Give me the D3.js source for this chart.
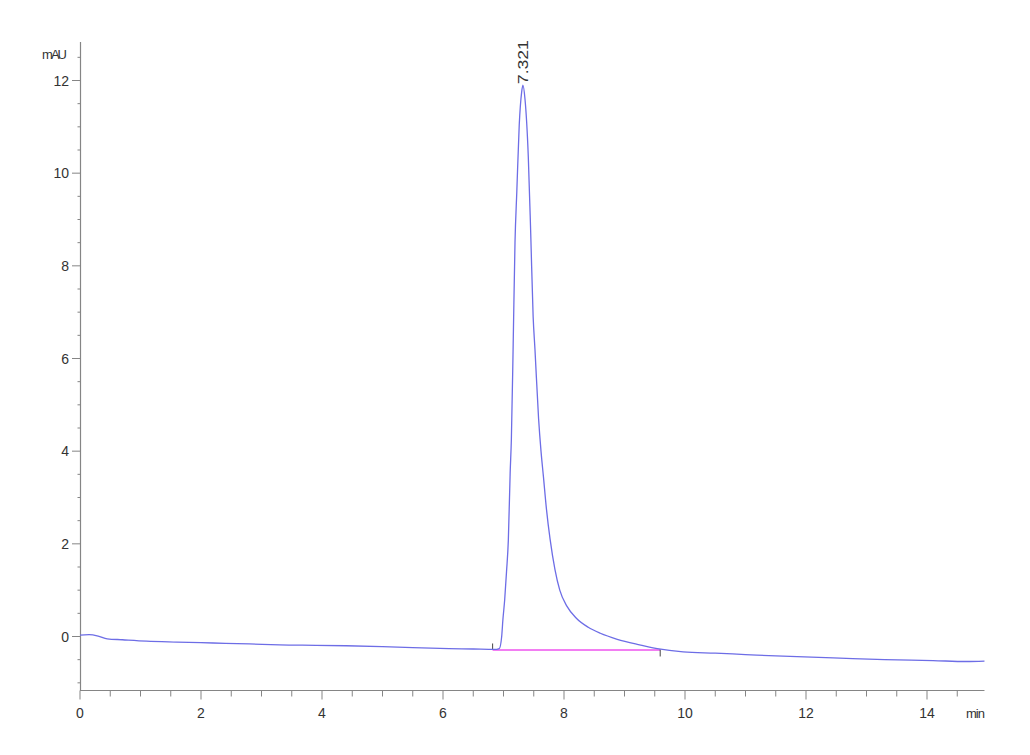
<!DOCTYPE html>
<html>
<head>
<meta charset="utf-8">
<script src="https://cdn.jsdelivr.net/npm/d3@7"></script>
<style>
  html, body { margin: 0; padding: 0; background: #fff; }
  svg { display: block; }
  text { font-family: "Liberation Sans", Arial, sans-serif; fill: #333; }
</style>
</head>
<body>
<svg id="chart" width="1030" height="755"></svg>
<script>
// ---- data ----
const times = [0, 0.15, 0.3, 0.45, 0.7, 1.1, 1.6, 2.2, 2.8, 3.3, 3.9, 4.4, 5.0, 5.5, 6.1, 6.5, 6.85,
  6.93, 6.97, 6.99, 7.02, 7.05, 7.08, 7.11, 7.13, 7.16, 7.19, 7.22, 7.26, 7.30, 7.321, 7.355, 7.41,
  7.45, 7.49, 7.52, 7.58, 7.62, 7.66, 7.71, 7.77, 7.85, 7.93, 8.05, 8.2, 8.4, 8.6, 8.88, 9.21, 9.54,
  9.97, 10.5, 11.0, 11.5, 12.45, 13.3, 14.1, 14.65, 14.95];
const signal = [0.03, 0.04, 0.01, -0.05, -0.07, -0.10, -0.12, -0.14, -0.16, -0.18, -0.19, -0.20, -0.22, -0.24, -0.26, -0.27, -0.28,
  -0.26, 0.0, 0.36, 0.8, 1.4, 2.08, 3.53, 4.25, 6.3, 8.5, 9.6, 11.04, 11.75, 11.9, 11.6, 10.35,
  8.7, 6.9, 6.2, 4.7, 4.0, 3.45, 2.75, 2.1, 1.45, 1.0, 0.65, 0.4, 0.2, 0.07, -0.06, -0.17, -0.26,
  -0.33, -0.36, -0.39, -0.42, -0.46, -0.50, -0.52, -0.54, -0.53];
const baselineTimes = [6.82, 9.59];
const baselineValues = [-0.28, -0.28];
const peakTime = 7.321;
const peakValue = 11.9;
const peakLabel = "7.321";
const xTickValues = [0, 2, 4, 6, 8, 10, 12, 14];
const yTickValues = [0, 2, 4, 6, 8, 10, 12];
const xUnit = "min";
const yUnit = "mAU";

// ---- layout ----
const svg = d3.select("#chart");
const x = d3.scaleLinear().domain([0, 15]).range([80, 987.5]);
const y = d3.scaleLinear().domain([0, 12]).range([636.5, 80.5]);
const xAxisY = 690.5;
const yTop = 42;
const axisColor = "#858585";

// minor ticks
const xMinor = d3.range(0, 15.001, 0.5).filter(v => !xTickValues.includes(v));
const yMinor = d3.range(-1, 12.501, 0.5).filter(v => !yTickValues.includes(v));

const g = svg.append("g");

// y axis line
g.append("line").attr("x1", 80.5).attr("x2", 80.5).attr("y1", yTop).attr("y2", xAxisY)
  .attr("stroke", axisColor).attr("stroke-width", 1.2);
// x axis line
g.append("line").attr("x1", 80).attr("x2", x(14.95)).attr("y1", xAxisY).attr("y2", xAxisY)
  .attr("stroke", axisColor).attr("stroke-width", 1.2);

// y ticks
g.selectAll(".ymaj").data(yTickValues).enter().append("line")
  .attr("x1", 72).attr("x2", 80.5).attr("y1", d => y(d)).attr("y2", d => y(d))
  .attr("stroke", axisColor).attr("stroke-width", 1);
g.selectAll(".ymin").data(yMinor).enter().append("line")
  .attr("x1", 77.5).attr("x2", 80.5).attr("y1", d => y(d)).attr("y2", d => y(d))
  .attr("stroke", axisColor).attr("stroke-width", 1);
g.selectAll(".ylab").data(yTickValues).enter().append("text")
  .attr("x", 69).attr("y", d => y(d)).attr("dy", "0.36em")
  .attr("text-anchor", "end").attr("font-size", 14).text(d => d);

// x ticks
g.selectAll(".xmaj").data(xTickValues).enter().append("line")
  .attr("x1", d => x(d)).attr("x2", d => x(d)).attr("y1", xAxisY).attr("y2", xAxisY + 9)
  .attr("stroke", axisColor).attr("stroke-width", 1);
g.selectAll(".xmin").data(xMinor.filter(v => v < 14.96)).enter().append("line")
  .attr("x1", d => x(d)).attr("x2", d => x(d)).attr("y1", xAxisY).attr("y2", xAxisY + 6)
  .attr("stroke", axisColor).attr("stroke-width", 1);
g.selectAll(".xlab").data(xTickValues).enter().append("text")
  .attr("x", d => x(d)).attr("y", 718)
  .attr("text-anchor", "middle").attr("font-size", 14).text(d => d);

// unit labels
g.append("text").attr("x", 985).attr("y", 718).attr("text-anchor", "end")
  .attr("font-size", 13).attr("textLength", 19).text(xUnit);
g.append("text").attr("x", 67).attr("y", 59).attr("text-anchor", "end")
  .attr("font-size", 13).attr("textLength", 25).text(yUnit);

// baseline of integration
g.append("line")
  .attr("x1", x(baselineTimes[0])).attr("x2", x(baselineTimes[1]))
  .attr("y1", y(baselineValues[0]) + 0.5).attr("y2", y(baselineValues[1]) + 0.5)
  .attr("stroke", "#f27ef2").attr("stroke-width", 2);
g.append("line")
  .attr("x1", x(baselineTimes[0])).attr("x2", x(baselineTimes[0]))
  .attr("y1", y(baselineValues[0]) - 6).attr("y2", y(baselineValues[0]))
  .attr("stroke", "#444").attr("stroke-width", 1);
g.append("line")
  .attr("x1", x(baselineTimes[1])).attr("x2", x(baselineTimes[1]))
  .attr("y1", y(baselineValues[1])).attr("y2", y(baselineValues[1]) + 7)
  .attr("stroke", "#444").attr("stroke-width", 1);

// signal trace
const pts = times.map((t, i) => [t, signal[i]]);
const line = d3.line().x(d => x(d[0])).y(d => y(d[1])).curve(d3.curveMonotoneX);
g.append("path").datum(pts).attr("d", line)
  .attr("fill", "none").attr("stroke", "#6d6de6").attr("stroke-width", 1.3);

// peak label
const px = x(peakTime), py = y(peakValue) - 1;
g.append("text")
  .attr("transform", `translate(${px + 5},${py}) rotate(-90)`)
  .attr("text-anchor", "start").attr("font-size", 14)
  .attr("textLength", 44).attr("lengthAdjust", "spacingAndGlyphs").text(peakLabel);
</script>
</body>
</html>
